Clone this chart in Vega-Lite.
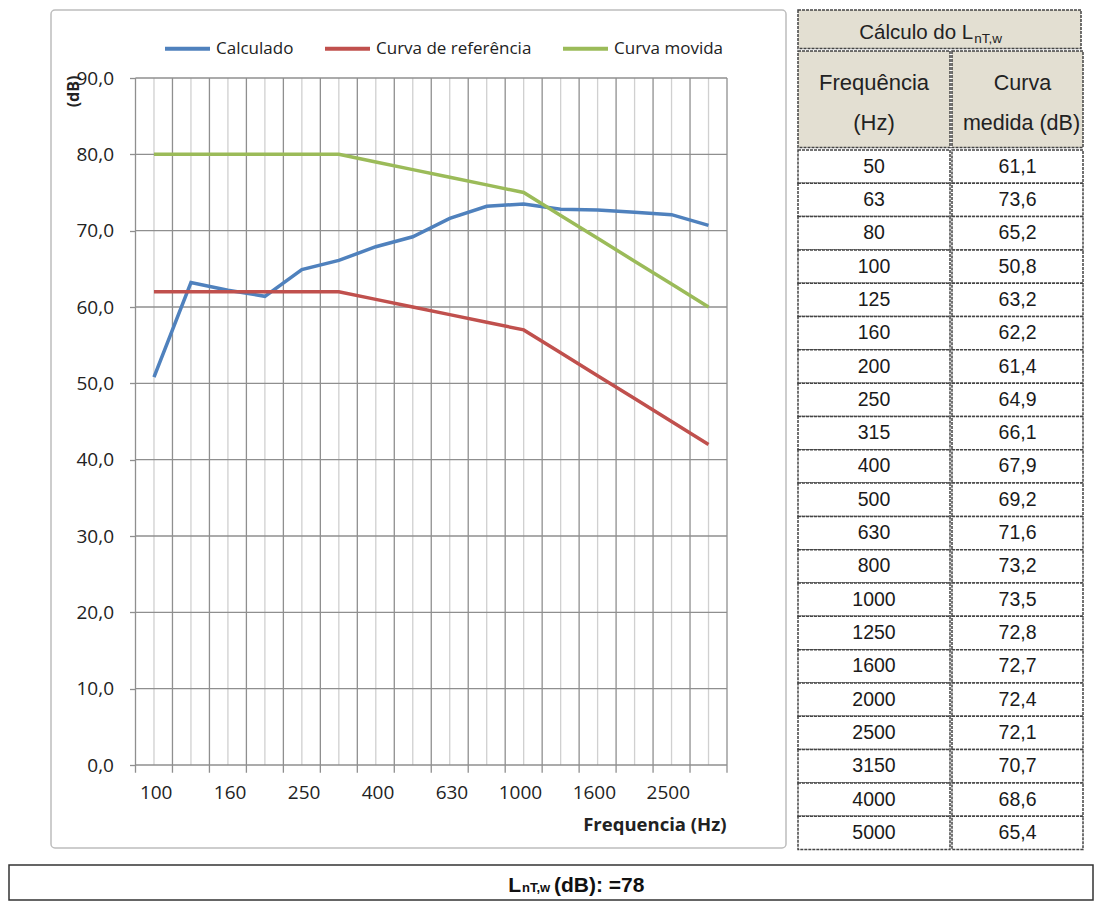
{
  "$schema": "https://vega.github.io/schema/vega-lite/v6.json",
  "padding": {"left": 8, "top": 9, "right": 0, "bottom": 0},
  "background": "white",
  "config": {
    "locale": {"number": {"decimal": ",", "thousands": ".", "grouping": [3], "currency": ["", " €"]}},
    "view": {"stroke": null},
    "font": "Open Sans",
    "concat": {"spacing": 0}
  },
  "datasets": {
    "curves": [
      {"f": "100", "serie": "Calculado", "dB": 50.8},
      {"f": "125", "serie": "Calculado", "dB": 63.2},
      {"f": "160", "serie": "Calculado", "dB": 62.2},
      {"f": "200", "serie": "Calculado", "dB": 61.4},
      {"f": "250", "serie": "Calculado", "dB": 64.9},
      {"f": "315", "serie": "Calculado", "dB": 66.1},
      {"f": "400", "serie": "Calculado", "dB": 67.9},
      {"f": "500", "serie": "Calculado", "dB": 69.2},
      {"f": "630", "serie": "Calculado", "dB": 71.6},
      {"f": "800", "serie": "Calculado", "dB": 73.2},
      {"f": "1000", "serie": "Calculado", "dB": 73.5},
      {"f": "1250", "serie": "Calculado", "dB": 72.8},
      {"f": "1600", "serie": "Calculado", "dB": 72.7},
      {"f": "2000", "serie": "Calculado", "dB": 72.4},
      {"f": "2500", "serie": "Calculado", "dB": 72.1},
      {"f": "3150", "serie": "Calculado", "dB": 70.7},
      {"f": "100", "serie": "Curva de referência", "dB": 62},
      {"f": "125", "serie": "Curva de referência", "dB": 62},
      {"f": "160", "serie": "Curva de referência", "dB": 62},
      {"f": "200", "serie": "Curva de referência", "dB": 62},
      {"f": "250", "serie": "Curva de referência", "dB": 62},
      {"f": "315", "serie": "Curva de referência", "dB": 62},
      {"f": "400", "serie": "Curva de referência", "dB": 61},
      {"f": "500", "serie": "Curva de referência", "dB": 60},
      {"f": "630", "serie": "Curva de referência", "dB": 59},
      {"f": "800", "serie": "Curva de referência", "dB": 58},
      {"f": "1000", "serie": "Curva de referência", "dB": 57},
      {"f": "1250", "serie": "Curva de referência", "dB": 54},
      {"f": "1600", "serie": "Curva de referência", "dB": 51},
      {"f": "2000", "serie": "Curva de referência", "dB": 48},
      {"f": "2500", "serie": "Curva de referência", "dB": 45},
      {"f": "3150", "serie": "Curva de referência", "dB": 42},
      {"f": "100", "serie": "Curva movida", "dB": 80},
      {"f": "125", "serie": "Curva movida", "dB": 80},
      {"f": "160", "serie": "Curva movida", "dB": 80},
      {"f": "200", "serie": "Curva movida", "dB": 80},
      {"f": "250", "serie": "Curva movida", "dB": 80},
      {"f": "315", "serie": "Curva movida", "dB": 80},
      {"f": "400", "serie": "Curva movida", "dB": 79},
      {"f": "500", "serie": "Curva movida", "dB": 78},
      {"f": "630", "serie": "Curva movida", "dB": 77},
      {"f": "800", "serie": "Curva movida", "dB": 76},
      {"f": "1000", "serie": "Curva movida", "dB": 75},
      {"f": "1250", "serie": "Curva movida", "dB": 72},
      {"f": "1600", "serie": "Curva movida", "dB": 69},
      {"f": "2000", "serie": "Curva movida", "dB": 66},
      {"f": "2500", "serie": "Curva movida", "dB": 63},
      {"f": "3150", "serie": "Curva movida", "dB": 60}
    ],
    "levels": [
      {"nivel": 0}, {"nivel": 10}, {"nivel": 20}, {"nivel": 30}, {"nivel": 40},
      {"nivel": 50}, {"nivel": 60}, {"nivel": 70}, {"nivel": 80}, {"nivel": 90}
    ],
    "tabela": [
      {"f": "50", "dB": 61.1}, {"f": "63", "dB": 73.6}, {"f": "80", "dB": 65.2},
      {"f": "100", "dB": 50.8}, {"f": "125", "dB": 63.2}, {"f": "160", "dB": 62.2},
      {"f": "200", "dB": 61.4}, {"f": "250", "dB": 64.9}, {"f": "315", "dB": 66.1},
      {"f": "400", "dB": 67.9}, {"f": "500", "dB": 69.2}, {"f": "630", "dB": 71.6},
      {"f": "800", "dB": 73.2}, {"f": "1000", "dB": 73.5}, {"f": "1250", "dB": 72.8},
      {"f": "1600", "dB": 72.7}, {"f": "2000", "dB": 72.4}, {"f": "2500", "dB": 72.1},
      {"f": "3150", "dB": 70.7}, {"f": "4000", "dB": 68.6}, {"f": "5000", "dB": 65.4}
    ]
  },
  "spacing": 13,
  "vconcat": [
    {
      "spacing": 10,
      "hconcat": [
        {
          "width": 30, "height": 10,
          "data": {"values": []},
          "mark": "text",
          "view": {"stroke": "transparent"}
        },
        {
          "width": 735, "height": 838,
          "view": {"stroke": "#bdbdbd", "strokeWidth": 1.5, "cornerRadius": 4, "fill": "white"},
          "data": {"name": "curves"},
          "layer": [
            {
              "transform": [{"filter": "datum.serie === 'Calculado'"}],
              "mark": {"type": "rule", "color": "#d0d0d0", "strokeWidth": 1.3},
              "encoding": {
                "x": {"field": "f", "type": "ordinal", "bandPosition": 0.5},
                "y": {"datum": 0, "type": "quantitative"},
                "y2": {"datum": 90}
              }
            },
            {
              "transform": [{"filter": "datum.serie === 'Calculado'"}],
              "mark": {"type": "rule", "color": "#8f8f8f", "strokeWidth": 1.3},
              "encoding": {
                "x": {"field": "f", "type": "ordinal", "bandPosition": 0},
                "y": {"datum": -1, "type": "quantitative"},
                "y2": {"datum": 90}
              }
            },
            {
              "transform": [{"filter": "datum.serie === 'Calculado' && datum.f === '3150'"}],
              "mark": {"type": "rule", "color": "#8f8f8f", "strokeWidth": 1.3},
              "encoding": {
                "x": {"field": "f", "type": "ordinal", "bandPosition": 1},
                "y": {"datum": -1, "type": "quantitative"},
                "y2": {"datum": 90}
              }
            },
            {
              "data": {"name": "levels"},
              "mark": {"type": "rule", "color": "#8f8f8f", "strokeWidth": 1.3},
              "encoding": {
                "y": {"field": "nivel", "type": "quantitative"},
                "x": {"datum": "100", "type": "ordinal", "bandPosition": 0},
                "x2": {"datum": "3150", "bandPosition": 1}
              }
            },
            {
              "mark": {"type": "line", "strokeWidth": 3.5},
              "encoding": {
                "x": {
                  "field": "f", "type": "ordinal", "bandPosition": 0.5,
                  "scale": {
                    "type": "band",
                    "domain": ["100", "125", "160", "200", "250", "315", "400", "500", "630", "800", "1000", "1250", "1600", "2000", "2500", "3150"],
                    "range": [84.5, 676],
                    "paddingInner": 0, "paddingOuter": 0
                  },
                  "axis": {
                    "title": "Frequencia (Hz)",
                    "values": ["100", "160", "250", "400", "630", "1000", "1600", "2500"],
                    "labelOffset": 18.5,
                    "offset": -83, "domain": false, "ticks": false, "tickSize": 0, "grid": false,
                    "labelAngle": 0, "labelPadding": 27, "labelFontSize": 19, "labelColor": "#222",
                    "labelFont": "Open Sans",
                    "titleFont": "Open Sans", "titleFontWeight": "bold", "titleFontSize": 18.5, "titleColor": "#222",
                    "titleX": 675, "titleY": 59, "titleAlign": "right", "titleBaseline": "middle"
                  }
                },
                "y": {
                  "field": "dB", "type": "quantitative",
                  "scale": {"domain": [0, 90], "range": [755, 68], "nice": false, "zero": false},
                  "axis": {
                    "title": "(dB)",
                    "values": [0, 10, 20, 30, 40, 50, 60, 70, 80, 90],
                    "format": ".1f",
                    "offset": -84.5, "domain": false, "grid": false,
                    "ticks": true, "tickSize": 6, "tickColor": "#8f8f8f", "tickWidth": 1.3,
                    "labelPadding": 16, "labelFontSize": 19, "labelColor": "#222", "labelFont": "Open Sans",
                    "titleFont": "Open Sans", "titleFontWeight": "bold", "titleFontSize": 16, "titleColor": "#222",
                    "titleAngle": 270, "titleX": -62, "titleY": 81, "titleAlign": "center", "titleBaseline": "middle"
                  }
                },
                "color": {
                  "field": "serie", "type": "nominal",
                  "scale": {"domain": ["Calculado", "Curva de referência", "Curva movida"], "range": ["#4F81BD", "#C0504D", "#9BBB59"]},
                  "legend": {
                    "orient": "none", "legendX": 154, "legendY": 14, "direction": "horizontal",
                    "title": null, "symbolType": "stroke", "symbolSize": 2025, "symbolStrokeWidth": 4,
                    "labelFontSize": 17, "labelOffset": 4, "columnPadding": 23,
                    "labelFont": "Open Sans", "labelColor": "#222"
                  }
                }
              }
            }
          ]
        },
        {
          "spacing": 0,
          "vconcat": [
            {
              "width": 283, "height": 38.5,
              "view": {"fill": "#e3dfd2", "stroke": "#444", "strokeWidth": 1.5, "strokeDash": [3, 1]},
              "data": {"values": [{"a": "Cálculo do L", "b": "nT,w"}]},
              "layer": [
                {
                  "mark": {"type": "text", "align": "right", "baseline": "alphabetic", "dx": 33.75, "dy": 10, "fontSize": 20.5, "font": "Liberation Sans", "color": "#222"},
                  "encoding": {"text": {"field": "a"}}
                },
                {
                  "mark": {"type": "text", "align": "left", "baseline": "alphabetic", "dx": 34.75, "dy": 14, "fontSize": 13.5, "font": "Liberation Sans", "color": "#222"},
                  "encoding": {"text": {"field": "b"}}
                }
              ]
            },
            {
              "spacing": 0,
              "hconcat": [
                {
                  "width": 152, "height": 96.5,
                  "view": {"fill": "#e3dfd2", "stroke": "#444", "strokeWidth": 1.5, "strokeDash": [3, 1]},
                  "data": {"values": [{"l1": "Frequência", "l2": "(Hz)"}]},
                  "layer": [
                    {
                      "mark": {"type": "text", "fontSize": 22, "font": "Liberation Sans", "baseline": "alphabetic", "dy": -9, "color": "#222"},
                      "encoding": {"text": {"field": "l1"}}
                    },
                    {
                      "mark": {"type": "text", "fontSize": 22, "font": "Liberation Sans", "baseline": "alphabetic", "dy": 31, "color": "#222"},
                      "encoding": {"text": {"field": "l2"}}
                    }
                  ]
                },
                {
                  "width": 131, "height": 96.5,
                  "view": {"fill": "#e3dfd2", "stroke": "#444", "strokeWidth": 1.5, "strokeDash": [3, 1]},
                  "data": {"values": [{"l1": "Curva", "l2": "medida (dB)"}]},
                  "layer": [
                    {
                      "mark": {"type": "text", "fontSize": 21.5, "font": "Liberation Sans", "baseline": "alphabetic", "dy": -9, "dx": 5, "color": "#222"},
                      "encoding": {"text": {"field": "l1"}}
                    },
                    {
                      "mark": {"type": "text", "fontSize": 21.5, "font": "Liberation Sans", "baseline": "alphabetic", "dy": 31, "dx": 4, "color": "#222"},
                      "encoding": {"text": {"field": "l2"}}
                    }
                  ]
                }
              ]
            },
            {
              "spacing": 0,
              "hconcat": [
                {
                  "width": 152, "height": 699.5,
                  "data": {"name": "tabela"},
                  "encoding": {
                    "y": {"field": "f", "type": "ordinal", "sort": null, "scale": {"paddingInner": 0, "paddingOuter": 0}, "axis": null}
                  },
                  "layer": [
                    {"mark": {"type": "rect", "fill": "white", "stroke": "#444", "strokeWidth": 1.5, "strokeDash": [3, 1]}},
                    {"mark": {"type": "text", "fontSize": 19.5, "font": "Liberation Sans", "baseline": "middle", "color": "#1a1a1a"}, "encoding": {"text": {"field": "f"}}}
                  ]
                },
                {
                  "width": 131, "height": 699.5,
                  "data": {"name": "tabela"},
                  "encoding": {
                    "y": {"field": "f", "type": "ordinal", "sort": null, "scale": {"paddingInner": 0, "paddingOuter": 0}, "axis": null}
                  },
                  "layer": [
                    {"mark": {"type": "rect", "fill": "white", "stroke": "#444", "strokeWidth": 1.5, "strokeDash": [3, 1]}},
                    {"mark": {"type": "text", "fontSize": 19.5, "font": "Liberation Sans", "baseline": "middle", "color": "#1a1a1a"}, "encoding": {"text": {"field": "dB", "type": "quantitative", "format": ".1f"}}}
                  ]
                }
              ]
            }
          ]
        }
      ]
    },
    {
      "width": 1084, "height": 35,
      "view": {"stroke": "#333", "strokeWidth": 1.5, "fill": "white"},
      "data": {"values": [{"a": "L", "b": "nT,w", "c": "(dB): =78"}]},
      "layer": [
        {
          "mark": {"type": "text", "align": "right", "baseline": "alphabetic", "dx": -30, "dy": 9.5, "fontSize": 21, "fontWeight": "bold", "font": "Liberation Sans", "color": "#111"},
          "encoding": {"text": {"field": "a"}}
        },
        {
          "mark": {"type": "text", "align": "left", "baseline": "alphabetic", "dx": -29, "dy": 9.5, "fontSize": 13, "fontWeight": "bold", "font": "Liberation Sans", "color": "#111"},
          "encoding": {"text": {"field": "b"}}
        },
        {
          "mark": {"type": "text", "align": "left", "baseline": "alphabetic", "dx": 3, "dy": 9.5, "fontSize": 21, "fontWeight": "bold", "font": "Liberation Sans", "color": "#111"},
          "encoding": {"text": {"field": "c"}}
        }
      ]
    }
  ]
}
